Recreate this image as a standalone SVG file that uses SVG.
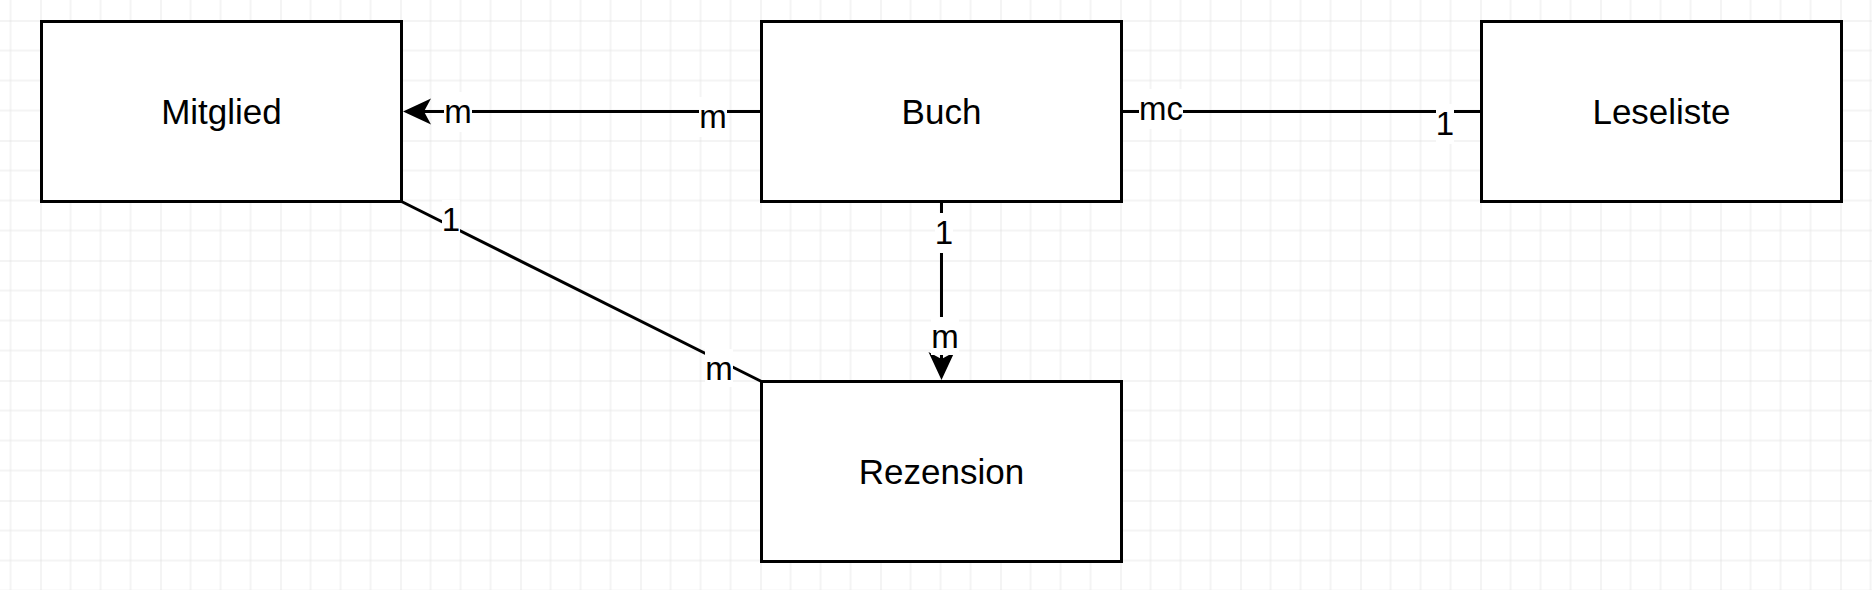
<svg xmlns="http://www.w3.org/2000/svg" width="1872" height="590" viewBox="0 0 1872 590">
  <defs>
    <pattern id="grid" patternUnits="userSpaceOnUse" x="40.5" y="20.5" width="120" height="120">
      <path d="M30,0 V120 M60,0 V120 M90,0 V120 M0,30 H120 M0,60 H120 M0,90 H120" stroke="#e8e8e8" stroke-width="1" fill="none"/>
      <path d="M0,0 V120 M0,0 H120" stroke="#d3d3d3" stroke-width="1" fill="none"/>
    </pattern>
    <marker id="arrow" markerUnits="userSpaceOnUse" viewBox="-30 -15 32 30" markerWidth="32" markerHeight="30" refX="-21" refY="0" orient="auto" overflow="visible">
      <path d="M0,0 L-28,-13 L-21,0 L-28,13 Z" fill="#000"/>
    </marker>
    <style>
      .box { fill: #fff; stroke: #000; stroke-width: 3; }
      .name { font-family: "Liberation Sans", Arial, Helvetica, sans-serif; font-size: 35px; fill: #000; text-anchor: middle; }
      .edge { fill: none; stroke: #000; stroke-width: 3; }
      .lbl { font-family: "Liberation Sans", Arial, Helvetica, sans-serif; font-size: 33px; fill: #000; text-anchor: middle; }
      .lblbg { fill: #fff; stroke: none; }
    </style>
  </defs>
  <rect x="0" y="0" width="1872" height="590" fill="#fff"/>
  <rect x="0" y="0" width="1872" height="590" fill="url(#grid)"/>

  <g id="connectors">
    <g id="e-buch-mitglied">
      <path class="edge" d="M761.5,111.5 H424" marker-end="url(#arrow)"/>
      <rect class="lblbg" x="444" y="92" width="28" height="40"/>
      <text class="lbl" x="458" y="123">m</text>
      <rect class="lblbg" x="699" y="97" width="28" height="40"/>
      <text class="lbl" x="713" y="128">m</text>
    </g>
    <g id="e-buch-leseliste">
      <path class="edge" d="M1121.5,111.5 H1481.5"/>
      <rect class="lblbg" x="1139" y="89" width="44" height="40"/>
      <text class="lbl" x="1161" y="120">mc</text>
      <rect class="lblbg" x="1436" y="104" width="18" height="40"/>
      <text class="lbl" x="1445" y="135">1</text>
    </g>
    <g id="e-mitglied-rezension">
      <path class="edge" d="M401.5,201.5 L761.5,381.5"/>
      <rect class="lblbg" x="442" y="200" width="18" height="40"/>
      <text class="lbl" x="451" y="231">1</text>
      <rect class="lblbg" x="705" y="349" width="28" height="38"/>
      <text class="lbl" x="719" y="380">m</text>
    </g>
    <g id="e-buch-rezension">
      <path class="edge" d="M941.5,201.5 V359" marker-end="url(#arrow)"/>
      <rect class="lblbg" x="935" y="213" width="18" height="40"/>
      <text class="lbl" x="944" y="244">1</text>
      <rect class="lblbg" x="931" y="317" width="28" height="38"/>
      <text class="lbl" x="945" y="348">m</text>
    </g>
  </g>

  <g id="node-mitglied">
    <rect class="box" x="41.5" y="21.5" width="360" height="180"/>
    <text class="name" x="221.5" y="124">Mitglied</text>
  </g>
  <g id="node-buch">
    <rect class="box" x="761.5" y="21.5" width="360" height="180"/>
    <text class="name" x="941.5" y="124">Buch</text>
  </g>
  <g id="node-leseliste">
    <rect class="box" x="1481.5" y="21.5" width="360" height="180"/>
    <text class="name" x="1661.5" y="124">Leseliste</text>
  </g>
  <g id="node-rezension">
    <rect class="box" x="761.5" y="381.5" width="360" height="180"/>
    <text class="name" x="941.5" y="484">Rezension</text>
  </g>
</svg>
